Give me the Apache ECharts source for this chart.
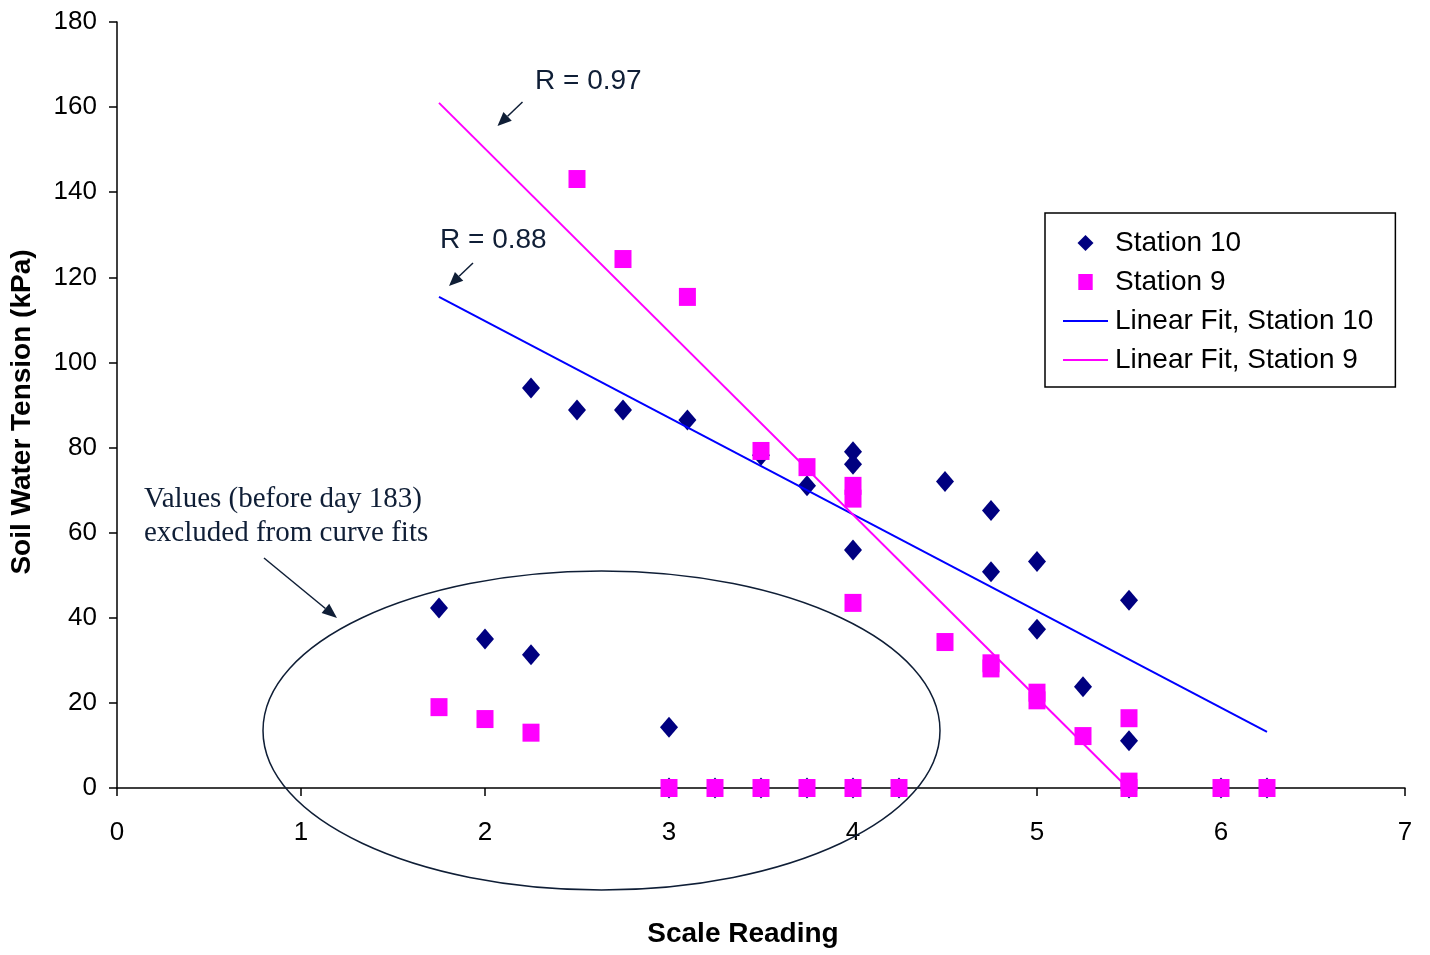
<!DOCTYPE html>
<html>
<head>
<meta charset="utf-8">
<script src="https://cdn.jsdelivr.net/npm/echarts@6/dist/echarts.min.js"></script>
<style>
html,body{margin:0;padding:0;background:#fff;}
#main{width:1430px;height:955px;}
</style>
</head>
<body>
<div id="main"></div>
<script>
// Station 10 (diamonds)
var st10X = [1.75, 2.0, 2.25, 2.25, 2.5, 2.75, 3.0, 3.1, 3.5, 3.75, 4.0, 4.0, 4.0, 4.5, 4.75, 4.75, 5.0, 5.0, 5.25, 5.5, 5.5,
             3.0, 3.25, 3.5, 3.75, 4.0, 4.25, 5.5, 6.0, 6.25];
var st10Y = [42.3, 35.0, 31.3, 94.0, 88.8, 88.8, 14.3, 86.5, 78.2, 71.0, 79.0, 76.1, 55.9, 72.0, 65.2, 50.8, 53.2, 37.3, 23.8, 44.1, 11.1,
             0, 0, 0, 0, 0, 0, 0, 0, 0];
// Station 9 (squares)
var st9X = [1.75, 2.0, 2.25, 2.5, 2.75, 3.1, 3.5, 3.75, 4.0, 4.0, 4.0, 4.5, 4.75, 4.75, 5.0, 5.0, 5.25, 5.5, 5.5, 5.5,
            3.0, 3.25, 3.5, 3.75, 4.0, 4.25, 6.0, 6.25];
var st9Y = [19.0, 16.2, 13.0, 143.1, 124.3, 115.4, 79.2, 75.4, 71.0, 68.0, 43.5, 34.3, 29.3, 28.1, 22.4, 20.6, 12.2, 16.4, 1.5, 0,
            0, 0, 0, 0, 0, 0, 0, 0];
// Linear fits (end points of drawn fit lines)
var fit10X = [1.75, 6.25];
var fit10Y = [115.4, 13.2];
var fit9X = [1.75, 5.54];
var fit9Y = [161.0, -2.0];
// Axis ticks
var xTicks = [0, 1, 2, 3, 4, 5, 6, 7];
var yTicks = [0, 20, 40, 60, 80, 100, 120, 140, 160, 180];

function pairs(xs, ys) { return xs.map(function (x, i) { return [x, ys[i]]; }); }

var FONT = '"Liberation Sans", Arial, sans-serif';
var SERIF = '"Liberation Serif", "Times New Roman", serif';
var NAVY = '#0f1e36';

function arrow(x1, y1, x2, y2, headLen, headW) {
  var dx = x2 - x1, dy = y2 - y1, L = Math.sqrt(dx * dx + dy * dy);
  var ux = dx / L, uy = dy / L, px = -uy, py = ux;
  var bx = x2 - ux * headLen, by = y2 - uy * headLen;
  return [
    { type: 'line', shape: { x1: x1, y1: y1, x2: bx, y2: by }, style: { stroke: NAVY, lineWidth: 1.5 }, z: 10 },
    { type: 'polygon', shape: { points: [[x2, y2], [bx + px * headW / 2, by + py * headW / 2], [bx - px * headW / 2, by - py * headW / 2]] },
      style: { fill: NAVY }, z: 10 }
  ];
}

var chart = echarts.init(document.getElementById('main'), null, { renderer: 'canvas' });

var graphics = [].concat(
  [{ type: 'ellipse', shape: { cx: 601.5, cy: 730.5, rx: 338.5, ry: 159.5 }, style: { stroke: NAVY, fill: 'none', lineWidth: 1.5 }, z: 10 }],
  arrow(522.5, 102, 497.5, 126, 14, 12),
  arrow(473, 263, 449, 286, 14, 12),
  arrow(264, 558, 337, 618, 15, 12),
  [
    { type: 'text', left: 535, top: 67, style: { text: 'R = 0.97', font: '28px ' + FONT, fill: NAVY }, z: 10 },
    { type: 'text', left: 440, top: 226, style: { text: 'R = 0.88', font: '28px ' + FONT, fill: NAVY }, z: 10 },
    { type: 'text', left: 144, top: 482, style: { text: 'Values (before day 183)\nexcluded from curve fits', font: '29px ' + SERIF, fill: NAVY, lineHeight: 34 }, z: 10 }
  ]
);

var LINE_ICON = 'path://M0,0H45V1.8H0Z';

var option = {
  backgroundColor: '#ffffff',
  animation: false,
  grid: { left: 117, right: 25, top: 22, bottom: 167, containLabel: false },
  legend: {
    orient: 'vertical',
    left: 1045, top: 213,
    padding: [16, 22, 13, 18],
    itemWidth: 45, itemHeight: 16,
    itemGap: 11,
    symbolKeepAspect: true,
    borderColor: '#000', borderWidth: 1.5,
    backgroundColor: '#fff',
    textStyle: { fontFamily: FONT, fontSize: 28, color: '#000', lineHeight: 28, padding: [0, 0, 0, 2] },
    data: [
      { name: 'Station 10', icon: 'path://M0,-1L1,0L0,1L-1,0Z' },
      { name: 'Station 9', icon: 'path://M0,0H0.9V1H0Z' },
      { name: 'Linear Fit, Station 10', icon: LINE_ICON },
      { name: 'Linear Fit, Station 9', icon: LINE_ICON }
    ]
  },
  xAxis: {
    type: 'value', min: 0, max: 7, interval: 1,
    name: 'Scale Reading', nameLocation: 'middle', nameGap: 132,
    nameTextStyle: { fontFamily: FONT, fontSize: 28, fontWeight: 'bold', color: '#000', padding: [0, 36, 0, 0] },
    axisLine: { show: true, onZero: true, lineStyle: { color: '#000', width: 1.5 } },
    axisTick: { show: true, inside: false, length: 8, lineStyle: { color: '#000', width: 1.5 } },
    axisLabel: { fontFamily: FONT, fontSize: 26, color: '#000', margin: 32,
      formatter: function (v) { return xTicks.indexOf(v) >= 0 ? String(v) : ''; } },
    splitLine: { show: false }
  },
  yAxis: {
    type: 'value', min: 0, max: 180, interval: 20,
    name: 'Soil Water Tension (kPa)', nameLocation: 'middle', nameGap: 81, nameRotate: 90,
    nameTextStyle: { fontFamily: FONT, fontSize: 28, fontWeight: 'bold', color: '#000', padding: [0, 14, 0, 0] },
    axisLine: { show: true, lineStyle: { color: '#000', width: 1.5 } },
    axisTick: { show: true, inside: false, length: 8, lineStyle: { color: '#000', width: 1.5 } },
    axisLabel: { fontFamily: FONT, fontSize: 26, color: '#000', margin: 20,
      formatter: function (v) { return yTicks.indexOf(v) >= 0 ? String(v) : ''; } },
    splitLine: { show: false }
  },
  series: [
    { name: 'Station 10', type: 'scatter', symbol: 'diamond', symbolSize: [18, 21],
      itemStyle: { color: '#000080', opacity: 1 }, data: pairs(st10X, st10Y), z: 2 },
    { name: 'Station 9', type: 'scatter', symbol: 'rect', symbolSize: [17, 18],
      itemStyle: { color: '#ff00ff', opacity: 1 }, data: pairs(st9X, st9Y), z: 3 },
    { name: 'Linear Fit, Station 10', type: 'line', showSymbol: false, symbol: 'none', clip: false,
      lineStyle: { color: '#0000ff', width: 2 }, itemStyle: { color: '#0000ff' }, data: pairs(fit10X, fit10Y), z: 4 },
    { name: 'Linear Fit, Station 9', type: 'line', showSymbol: false, symbol: 'none', clip: false,
      lineStyle: { color: '#ff00ff', width: 2 }, itemStyle: { color: '#ff00ff' }, data: pairs(fit9X, fit9Y), z: 4 }
  ],
  graphic: graphics
};
chart.setOption(option);
</script>
</body>
</html>
